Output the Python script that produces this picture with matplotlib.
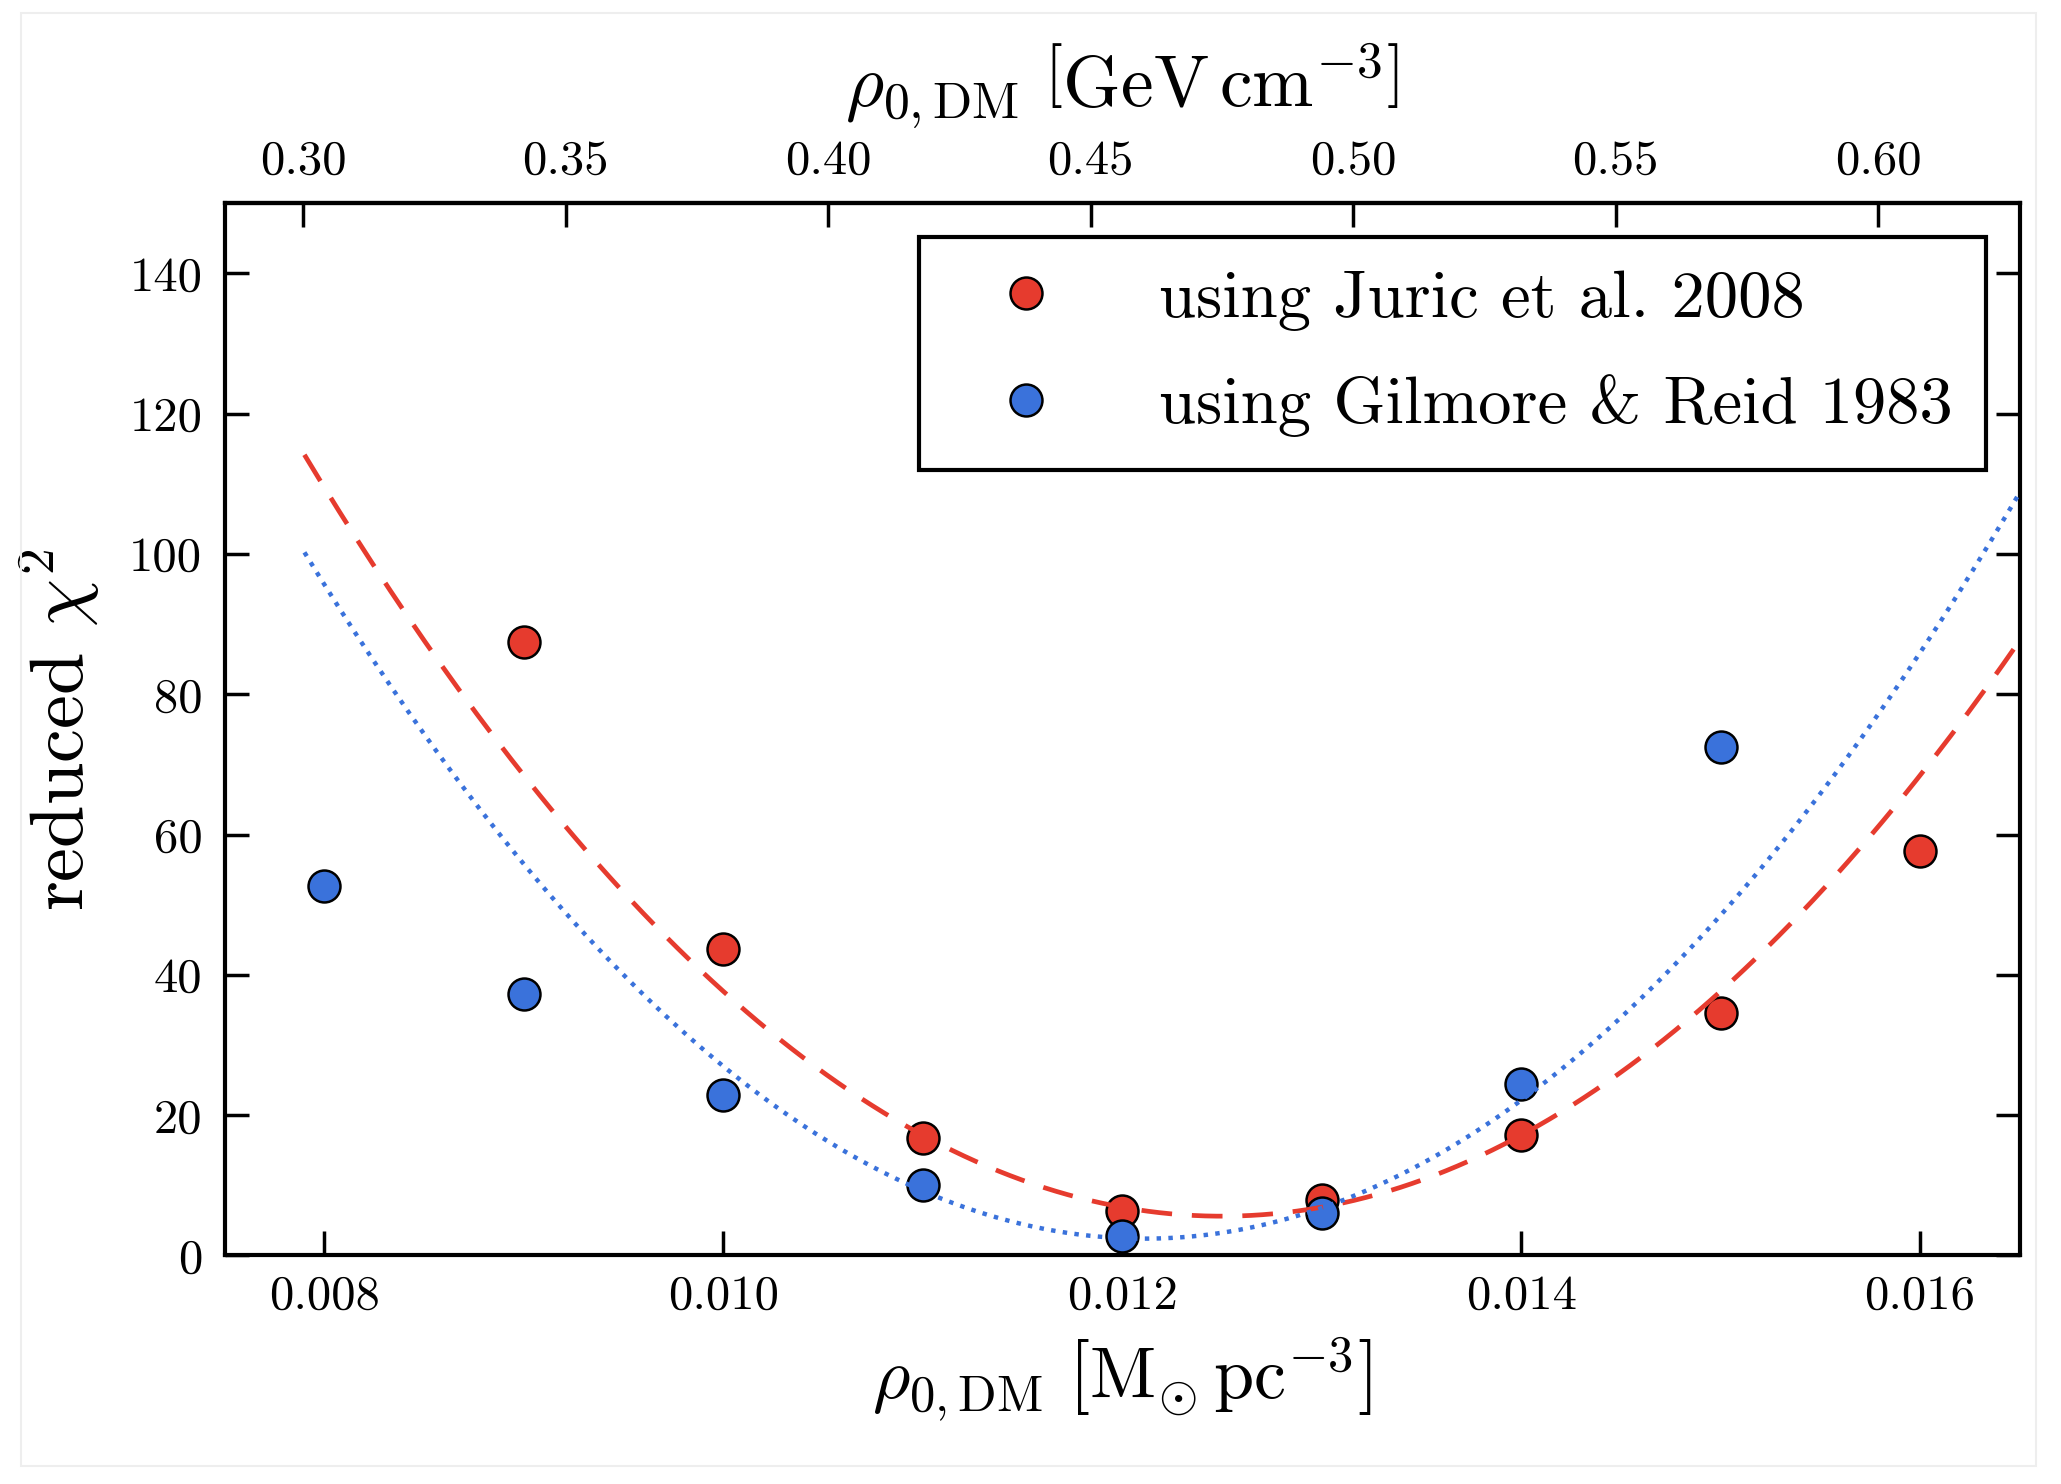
import numpy as np
import matplotlib
matplotlib.use('Agg')
from matplotlib import pyplot as plt
from matplotlib.patches import Rectangle

# data
rho_juric = [0.009, 0.010, 0.011, 0.012, 0.013, 0.014, 0.015, 0.016]
chi2_juric = [87.5, 43.7, 16.7, 6.4, 7.9, 17.2, 34.5, 57.7]

rho_gilmore = [0.008, 0.009, 0.010, 0.011, 0.012, 0.013, 0.014, 0.015]
chi2_gilmore = [52.7, 37.3, 22.9, 10.1, 2.8, 6.0, 24.4, 72.5]

# parabola fits: (vertex position, minimum value, curvature)
fit_juric = (0.0125, 5.6, 5.13e6)
fit_gilmore = (0.01211, 2.4, 5.52e6)
fit_range = (0.0079, 0.0165)

gev_per_msun = 38.0  # 1 Msun/pc^3 in GeV/cm^3

red = '#e63b2e'
blue = '#3a72db'

plt.rcParams['font.family'] = 'cmr10'
plt.rcParams['mathtext.fontset'] = 'cm'
plt.rcParams['axes.formatter.use_mathtext'] = True

fig = plt.figure(figsize=(20.61, 14.84), dpi=100)
ax = fig.add_axes([0.109, 0.154, 0.871, 0.709])

xs = np.linspace(fit_range[0], fit_range[1], 300)
x0, c, a = fit_juric
ax.plot(xs, a * (xs - x0) ** 2 + c, color=red, lw=3.4, dashes=(6.5, 4.2), zorder=4)
x0, c, a = fit_gilmore
ax.plot(xs, a * (xs - x0) ** 2 + c, color=blue, lw=3.2, dashes=(1, 1.65), zorder=4)

ax.plot(rho_juric, chi2_juric, 'o', color=red, mec='k', mew=1.8, ms=23,
        label='using Juric et al. 2008', zorder=3)
ax.plot(rho_gilmore, chi2_gilmore, 'o', color=blue, mec='k', mew=1.8, ms=23,
        label='using Gilmore & Reid 1983', zorder=3)

ax.set_xlim(0.0075, 0.0165)
ax.set_ylim(0, 150)
ax.set_xticks([0.008, 0.010, 0.012, 0.014, 0.016])
ax.set_xticklabels(['0.008', '0.010', '0.012', '0.014', '0.016'])
ax.set_yticks(np.arange(0, 141, 20))
ax.set_yticklabels([str(v) for v in range(0, 141, 20)])

for s in ax.spines.values():
    s.set_linewidth(3)
ax.tick_params(direction='in', length=17, width=2.5, labelsize=35,
               top=False, right=True)
ax.tick_params(axis='x', pad=14)
ax.tick_params(axis='y', pad=16)

sec = ax.secondary_xaxis('top', functions=(lambda x: x * gev_per_msun,
                                           lambda x: x / gev_per_msun))
sec.set_xticks(np.arange(0.30, 0.601, 0.05))
sec.set_xticklabels(['%.2f' % v for v in np.arange(0.30, 0.601, 0.05)])
sec.tick_params(direction='in', length=17, width=2.5, labelsize=35, pad=14)
sec.spines['top'].set_linewidth(3)
sec.set_xlabel(r'$\rho_{0,\mathrm{DM}}\ \left[\mathrm{GeV\,cm}^{-3}\right]$',
               fontsize=53, labelpad=24)

ax.set_xlabel(r'$\rho_{0,\mathrm{DM}}\ \left[\mathrm{M}_{\odot}\,\mathrm{pc}^{-3}\right]$',
              fontsize=52, labelpad=12)
ax.set_ylabel(r'reduced $\chi^2$', fontsize=55, labelpad=20)

leg = ax.legend(loc='upper right', numpoints=1, fontsize=48, fancybox=False,
                framealpha=1, edgecolor='k', borderaxespad=0.5, borderpad=0.5,
                labelspacing=0.65, handlelength=2.2, handletextpad=0.9)
leg.get_frame().set_linewidth(3)

fig.patches.append(Rectangle((0.01, 0.012), 0.978, 0.979, transform=fig.transFigure,
                             fill=False, edgecolor='#eeeeee', lw=1.5))

plt.savefig('out.png', dpi=100)
